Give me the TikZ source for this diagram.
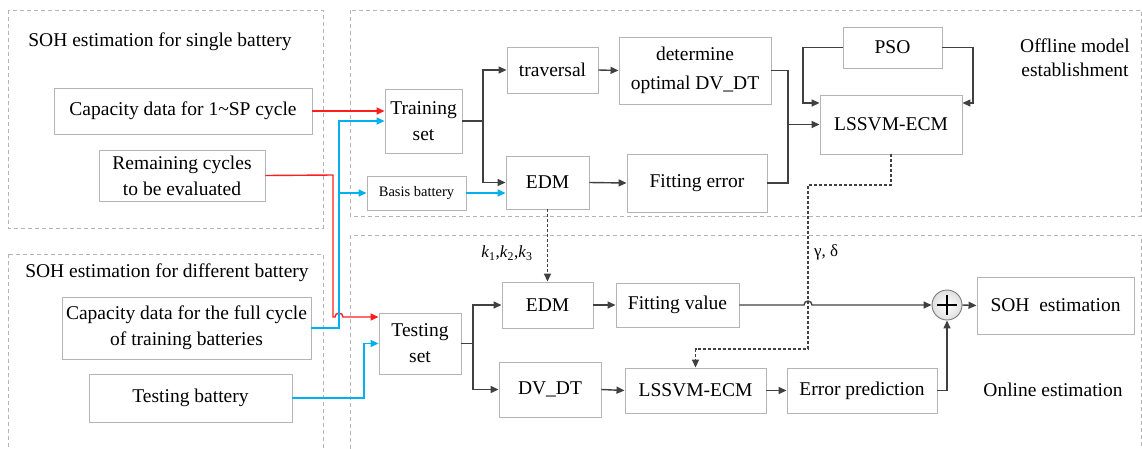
\documentclass[tikz,border=0pt]{standalone}
\usepackage{fontspec}
\setmainfont{Liberation Serif}
\usetikzlibrary{arrows.meta,calc}
\definecolor{darr}{HTML}{404040}
\definecolor{rarr}{HTML}{FF1E1E}
\definecolor{barr}{HTML}{00B0F0}
\definecolor{bord}{HTML}{B4B4B4}
\tikzset{
  box/.style={draw=bord, line width=0.9pt, fill=white, inner sep=0pt, align=center,
    font=\fontsize{19.5}{26}\selectfont},
  grp/.style={draw=bord, line width=0.9pt, dash pattern=on 4pt off 3pt},
  title/.style={font=\fontsize{19.5}{24}\selectfont, align=center, inner sep=0pt},
  tip/.style={-{Triangle[length=8pt,width=7pt]}},
  garr/.style={draw=darr, line width=1.4pt},
  rline/.style={draw=rarr, line width=1.4pt},
  bline/.style={draw=barr, line width=1.4pt},
  dline/.style={draw=darr, line width=1.5pt, dash pattern=on 3pt off 2pt},
}
\begin{document}
\begin{tikzpicture}[x=1pt,y=-1pt]
\useasboundingbox (0,0) rectangle (1142,448);
\clip (0,0) rectangle (1142,448);
% groups
\draw[grp] (8,10) rectangle (323,228);
\draw[grp] (350,10) rectangle (1141,216);
\draw[grp] (8,254) rectangle (323,470);
\draw[grp] (350,235) rectangle (1141,470);
% titles
\node[title] (t1) at (160,42) {SOH estimation for single battery};
\node[title] (t2) at (1075,58) {Offline model\\establishment};
\node[title] (t3) at (167,273) {SOH estimation for different battery};
\node[title] (t4) at (1053,390) {Online estimation};
% boxes
\node[box, minimum width=258, minimum height=46] (cap1) at (183,111) {Capacity data for 1\textasciitilde SP cycle};
\node[box, minimum width=166, minimum height=51] (remain) at (182,175.5) {Remaining cycles\\to be evaluated};
\node[box, minimum width=77, minimum height=64] (train) at (423.5,121) {Training\\set};
\node[box, minimum width=99, minimum height=34, font=\fontsize{14.5}{16}\selectfont] (basis) at (416.5,193) {Basis battery};
\node[box, minimum width=91, minimum height=46] (trav) at (552.5,70) {traversal};
\node[box, minimum width=152, minimum height=67, font=\fontsize{19.5}{29}\selectfont] (det) at (695,70.5) {determine\\optimal DV\_DT};
\node[box, minimum width=83, minimum height=53] (edm1) at (547.5,182.5) {EDM};
\node[box, minimum width=140, minimum height=58] (fiterr) at (697,183) {Fitting error};
\node[box, minimum width=99, minimum height=41] (pso) at (892.5,47.5) {PSO};
\node[box, minimum width=142, minimum height=59] (lssvm1) at (891,124.5) {LSSVM-ECM};
\node[box, minimum width=249, minimum height=62] (capfull) at (186.5,328) {Capacity data for the full cycle\\of training batteries};
\node[box, minimum width=203, minimum height=48] (testbat) at (190.5,398) {Testing battery};
\node[box, minimum width=82, minimum height=61] (test) at (420,343.5) {Testing\\set};
\node[box, minimum width=91, minimum height=46] (edm2) at (547.5,305) {EDM};
\node[box, minimum width=123, minimum height=44] (fitval) at (677.5,305) {Fitting value};
\node[box, minimum width=102, minimum height=55] (dvdt) at (550,389.5) {DV\_DT};
\node[box, minimum width=141, minimum height=45] (lssvm2) at (695.5,390.5) {LSSVM-ECM};
\node[box, minimum width=150, minimum height=45] (errpred) at (862,390.5) {Error prediction};
\node[box, minimum width=157, minimum height=57] (soh) at (1055.5,305.5) {SOH\ \ estimation};
\node[circle, draw=darr!70, line width=0.9pt, inner color=white, outer color=gray!25, minimum size=30pt, inner sep=0pt] (plus) at (947,305) {};
\draw[draw=black, line width=1.1pt] ($(plus.north)+(0,5)$) -- ($(plus.south)+(0,-5)$);
\draw[draw=black, line width=1.1pt] ($(plus.west)+(5,0)$) -- ($(plus.east)+(-5,0)$);
% labels
\node[inner sep=0pt, font=\fontsize{17}{19}\selectfont] (klab) at (507,253) {\textit{k}\textsubscript{1},\textit{k}\textsubscript{2},\textit{k}\textsubscript{3}};
\node[inner sep=0pt, font=\fontsize{17}{19}\selectfont, anchor=west] (gdlab) at (814,252) {γ, δ};
% coordinates
\coordinate (bt) at (339,121);
\coordinate (rx) at (333,175);
\coordinate (cx) at (364,398);
\coordinate (sj) at (483,121);
\coordinate (lj) at (788,124.5);
\coordinate (pl) at (803,103);
\coordinate (pr) at (973,103);
\coordinate (tj) at (473,343.5);
\coordinate (d1) at (808,185);
\coordinate (d2) at (808,349);
% red connectors
\draw[rline, tip] (cap1.east) -- (cap1.east -| train.west);
\draw[rline, tip] (remain.east) -- (rx) -- (rx |- 0,317) -- ($(bt |- 0,317)+(-4,0)$)
  arc[start angle=180, end angle=0, radius=4pt] -- (test.west |- 0,317);
% blue connectors
\draw[bline, tip] (capfull.east) -| (bt) -- (train.west);
\draw[bline, tip] (bt |- basis.west) -- (basis.west);
\draw[bline, tip] (basis.east) -- (basis.east -| edm1.west);
\draw[bline, tip] (testbat.east) -- (cx) |- (test.west);
% gray connectors (offline)
\draw[garr] (train.east) -- (sj);
\draw[garr, tip] (sj) |- (trav.west);
\draw[garr, tip] (sj) |- (edm1.west);
\draw[garr, tip] (trav.east) -- (det.west);
\draw[garr, tip] (edm1.east) -- (fiterr.west);
\draw[garr] (det.east) -| (lj);
\draw[garr] (fiterr.east) -| (lj);
\draw[garr, tip] (lj) -- (lssvm1.west);
\draw[garr, tip] (pso.west) -| (pl) -- (pl -| lssvm1.west);
\draw[garr, tip] (pso.east) -| (pr) -- (pr -| lssvm1.east);
% dashed connectors
\draw[dline, tip] (edm1.south) -- (edm2.north);
\draw[dline, tip] (lssvm1.south) |- (d1) -- (d2) -| (lssvm2.north);
% online connectors
\draw[garr] (test.east) -- (tj);
\draw[garr, tip] (tj) |- (edm2.west);
\draw[garr, tip] (tj) |- (dvdt.west);
\draw[garr, tip] (edm2.east) -- (fitval.west);
\draw[garr, tip] (dvdt.east) -- (lssvm2.west);
\draw[garr, tip] (lssvm2.east) -- (errpred.west);
\draw[garr, tip] (fitval.east) -- ($(d1 |- fitval.east)+(-4,0)$)
  arc[start angle=180, end angle=0, radius=4pt] -- (plus.west);
\draw[garr, tip] (errpred.east) -| (plus.south);
\draw[garr, tip] (plus.east) -- (soh.west);
\end{tikzpicture}
\end{document}
